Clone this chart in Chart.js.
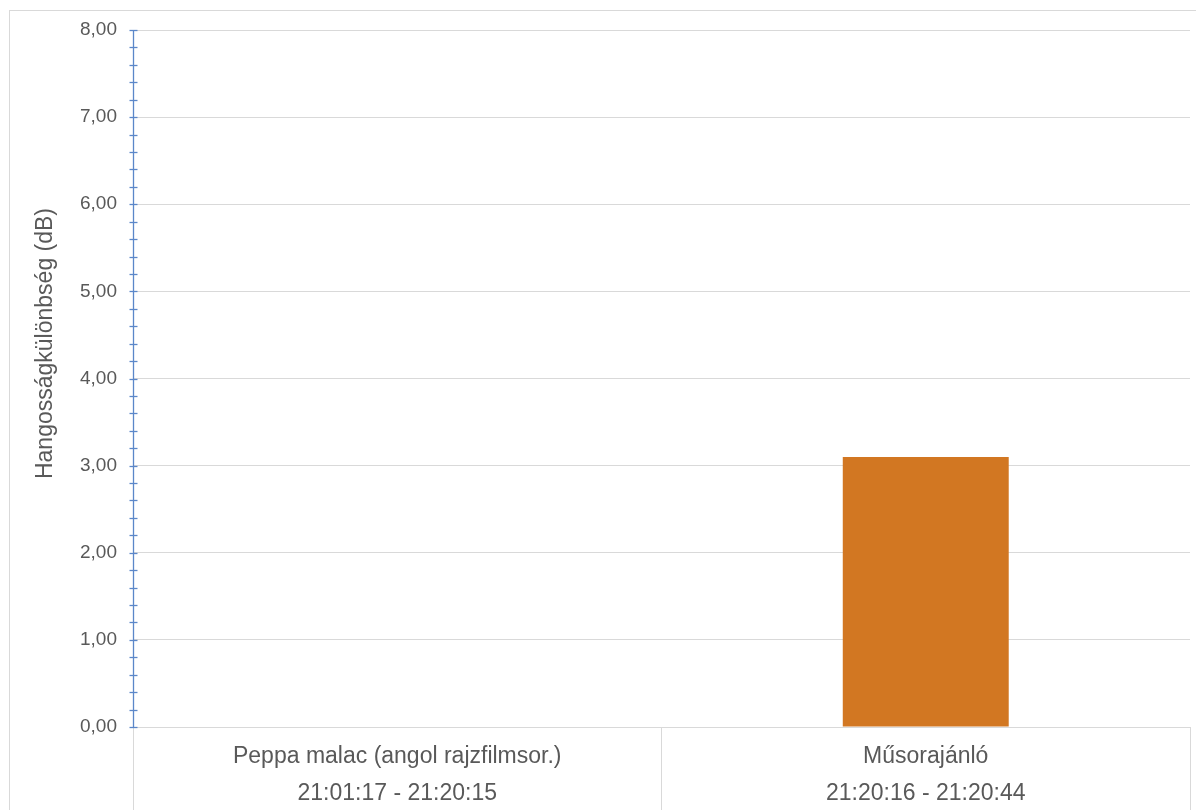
<!DOCTYPE html>
<html>
<head>
<meta charset="utf-8">
<script src="https://cdn.jsdelivr.net/npm/chart.js@4/dist/chart.umd.min.js"></script>
<style>
  html, body { margin: 0; padding: 0; background: #fff; overflow: hidden; }
  #keret { position: absolute; left: 9px; top: 10px; width: 1300px; height: 900px; border: 1px solid #d9d9d9; }
  #chart { position: absolute; left: 0; top: 0; }
</style>
</head>
<body>
<div id="keret"></div>
<canvas id="chart" width="1196" height="810"></canvas>
<script>
// adatok
const musorok = [
  ['Peppa malac (angol rajzfilmsor.)', '21:01:17 - 21:20:15'],
  ['Műsorajánló', '21:20:16 - 21:20:44']
];
const kulonbseg = [0, 3.1];
const yCimkek = ['0,00', '1,00', '2,00', '3,00', '4,00', '5,00', '6,00', '7,00', '8,00'];
const yCim = 'Hangosságkülönbség (dB)';

const szurke = '#d9d9d9';
const kek = '#5b87c9';
const szoveg = '#595959';
const betu = "'Liberation Sans', Arial, sans-serif";

// y tengely vonala, kis osztások + tengelycím
const tengelyPlugin = {
  id: 'tengely',
  afterDraw(chart) {
    const ctx = chart.ctx;
    const y = chart.scales.y;
    const x0 = Math.round(chart.chartArea.left) + 0.5;
    ctx.save();
    ctx.strokeStyle = kek;
    ctx.lineWidth = 1.3;
    ctx.beginPath();
    ctx.moveTo(x0, y.getPixelForValue(y.max));
    ctx.lineTo(x0, y.getPixelForValue(y.min) + 0.5);
    ctx.stroke();
    y.ticks.forEach((t, i) => {
      const py = Math.round(y.getPixelForTick(i)) + 0.5;
      ctx.beginPath();
      ctx.moveTo(x0 - 4, py);
      ctx.lineTo(x0 + 4, py);
      ctx.stroke();
    });
    ctx.translate(46, (chart.chartArea.top + chart.chartArea.bottom) / 2 - 35);
    ctx.rotate(-Math.PI / 2);
    ctx.font = '23px ' + betu;
    ctx.fillStyle = szoveg;
    ctx.textAlign = 'center';
    ctx.textBaseline = 'middle';
    ctx.fillText(yCim, 0, 0);
    ctx.restore();
  }
};

new Chart(document.getElementById('chart'), {
  type: 'bar',
  data: {
    labels: musorok,
    datasets: [{
      data: kulonbseg,
      backgroundColor: '#d27722',
      borderWidth: 0,
      barPercentage: 0.314,
      categoryPercentage: 1
    }]
  },
  options: {
    responsive: false,
    animation: false,
    layout: { padding: { top: 30, right: 6, left: 0, bottom: 0 } },
    plugins: { legend: { display: false }, tooltip: { enabled: false } },
    scales: {
      x: {
        offset: true,
        grid: {
          offset: true,
          drawOnChartArea: false,
          drawTicks: true,
          tickLength: 83,
          color: szurke
        },
        border: { color: szurke },
        ticks: {
          color: szoveg,
          font: { family: betu, size: 23, lineHeight: 1.57 },
          padding: -71,
          maxRotation: 0,
          autoSkip: false
        },
        afterFit(scale) { scale.height = 83; }
      },
      y: {
        min: 0,
        max: 8,
        grid: {
          drawTicks: false,
          color: (c) => (c.index % 5 === 0 ? szurke : 'rgba(0,0,0,0)')
        },
        border: { color: kek },
        ticks: {
          stepSize: 0.2,
          autoSkip: false,
          padding: 16,
          color: szoveg,
          font: { family: betu, size: 19 },
          callback: (v, i) => (i % 5 === 0 ? yCimkek[i / 5] : '')
        },
        afterFit(scale) { scale.width = 133; }
      }
    }
  },
  plugins: [tengelyPlugin]
});
</script>
</body>
</html>
